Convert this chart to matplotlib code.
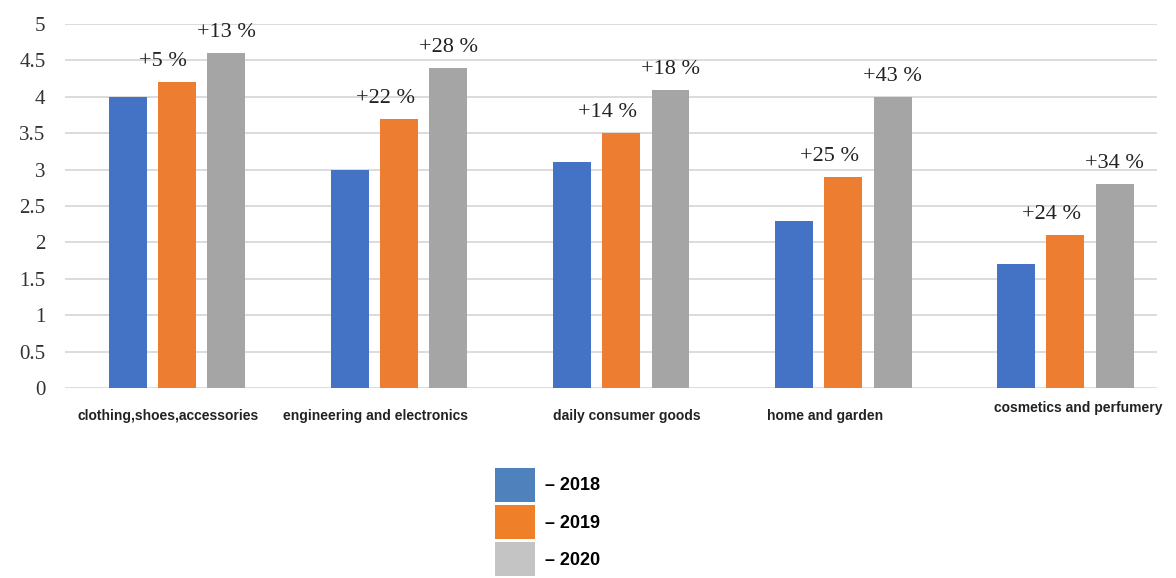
import numpy as np
import matplotlib.pyplot as plt
import matplotlib.transforms as mtransforms
from matplotlib.patches import Patch

categories = ['clothing,shoes,accessories', 'engineering and electronics',
              'daily consumer goods', 'home and garden', 'cosmetics and perfumery']
v2018 = [4.0, 3.0, 3.1, 2.3, 1.7]
v2019 = [4.2, 3.7, 3.5, 2.9, 2.1]
v2020 = [4.6, 4.4, 4.1, 4.0, 2.8]
growth2019 = [5, 22, 14, 25, 24]
growth2020 = [13, 28, 18, 43, 34]
yticks = np.arange(0, 5.01, 0.5)
ytick_labels = ['0', '0.5', '1', '1.5', '2', '2.5', '3', '3.5', '4', '4.5', '5']

c18, c19, c20 = '#4472C4', '#ED7D31', '#A5A5A5'

fig = plt.figure(figsize=(11.76, 5.78), dpi=100)
ax = fig.add_axes([0.0553, 0.3287, 0.9287, 0.6298])

x = np.arange(len(categories))
w = 0.171
step = 0.222
ax.bar(x - step, v2018, w, color=c18, zorder=3)
ax.bar(x, v2019, w, color=c19, zorder=3)
ax.bar(x + step, v2020, w, color=c20, zorder=3)

# growth labels above 2019 and 2020 bars
for i in range(len(categories)):
    ax.annotate(f'+{growth2019[i]} %', xy=(x[i], v2019[i]), xytext=(-14, 16),
                textcoords='offset pixels', ha='center', va='baseline',
                fontsize=16, family='Liberation Serif', color='#222222')
    ax.annotate(f'+{growth2020[i]} %', xy=(x[i] + step, v2020[i]), xytext=(0, 16),
                textcoords='offset pixels', ha='center', va='baseline',
                fontsize=16, family='Liberation Serif', color='#222222')

ax.set_xlim(-0.505, 4.414)
ax.set_ylim(0, 5)
ax.set_yticks(yticks)
ax.set_yticklabels(ytick_labels, family='Liberation Serif', fontsize=15, color='#333333')
ax.tick_params(axis='y', length=0, pad=14)
ax.set_xticks([])
ax.yaxis.grid(True, color='#d9d9d9', lw=1.3, zorder=0)
for s in ax.spines.values():
    s.set_visible(False)

# category labels, slightly staggered like the original
lab_dx = [-9, -24, 6, -18, 13]
lab_dy = [-28, -28, -28, -28, -20]
for i, name in enumerate(categories):
    tr = ax.get_xaxis_transform() + mtransforms.ScaledTranslation(
        lab_dx[i] / 100, lab_dy[i] / 100, fig.dpi_scale_trans)
    ax.text(x[i], 0, name, transform=tr, ha='center', va='center',
            fontsize=10, family='Liberation Sans', fontweight='bold', color='#222222')

handles = [Patch(facecolor='#4F81BD'), Patch(facecolor='#F07F2A'), Patch(facecolor='#C4C4C4')]
fig.legend(handles, ['– 2018', '– 2019', '– 2020'], loc='upper left',
           bbox_to_anchor=(495 / 1176, 1 - 468 / 578), frameon=False, borderpad=0,
           borderaxespad=0, prop={'family': 'Liberation Sans', 'weight': 'bold', 'size': 13},
           handlelength=2.2, handleheight=2.52, labelspacing=0.17, handletextpad=0.55)

fig.savefig('out.png', dpi=100, facecolor='white')
